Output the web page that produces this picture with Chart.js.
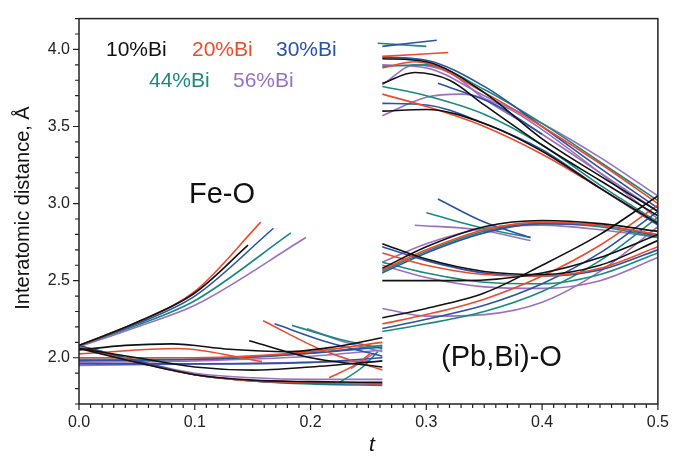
<!DOCTYPE html>
<html>
<head>
<meta charset="utf-8">
<script src="https://cdn.jsdelivr.net/npm/chart.js@4"></script>
<style>
  html, body { margin: 0; padding: 0; background: #fff; }
  #wrap { width: 678px; height: 457px; }
</style>
</head>
<body>
<div id="wrap"><canvas id="chart" width="678" height="457"></canvas></div>
<script>
// series labels and colours
var seriesLabels = ['10%Bi', '20%Bi', '30%Bi', '44%Bi', '56%Bi'];
var seriesColors = ['#111111', '#ee4a2b', '#2a52a6', '#1a8a7c', '#9a70c2'];

// each series: list of curves, each curve a list of [t, distance]
var bi10 = [
  [[0,2.08],[0.05,2.23],[0.1,2.42],[0.146,2.73]],
  [[0.147,2.11],[0.2,2.0],[0.262,1.94]],
  [[0,2.05],[0.04,2.08],[0.08,2.09],[0.13,2.055],[0.18,2.04],[0.22,2.07],[0.262,2.13]],
  [[0,2.06],[0.05,1.97],[0.1,1.89],[0.15,1.855],[0.2,1.845],[0.262,1.84]],
  [[0,2.06],[0.05,2.0],[0.1,1.94],[0.15,1.92],[0.2,1.94],[0.262,1.98]],
  [[0.262,3.94],[0.3,3.92],[0.35,3.72],[0.4,3.42],[0.45,3.18],[0.5,2.95]],
  [[0.262,3.78],[0.29,3.85],[0.32,3.8],[0.35,3.64],[0.4,3.38],[0.45,3.15],[0.5,2.92]],
  [[0.262,3.6],[0.3,3.61],[0.35,3.52],[0.4,3.34],[0.45,3.1],[0.5,2.87]],
  [[0.262,2.58],[0.3,2.72],[0.35,2.85],[0.4,2.89],[0.45,2.87],[0.5,2.82]],
  [[0.262,2.74],[0.3,2.64],[0.35,2.56],[0.4,2.54],[0.45,2.6],[0.5,2.76]],
  [[0.262,2.5],[0.33,2.5],[0.4,2.55],[0.45,2.65],[0.5,2.8]],
  [[0.262,2.26],[0.3,2.32],[0.35,2.42],[0.4,2.6],[0.45,2.8],[0.5,3.05]]
];
var bi20 = [
  [[0,2.08],[0.05,2.23],[0.1,2.43],[0.157,2.88]],
  [[0.159,2.24],[0.21,2.05],[0.262,1.92]],
  [[0,2.025],[0.085,2.06],[0.158,1.975]],
  [[0,2.0],[0.1,2.0],[0.2,2.04],[0.262,2.1]],
  [[0,2.07],[0.04,1.99],[0.1,1.89],[0.15,1.85],[0.2,1.84],[0.262,1.83]],
  [[0.216,1.87],[0.24,1.96],[0.252,2.03]],
  [[0.262,3.955],[0.319,3.98]],
  [[0.262,3.88],[0.29,3.92],[0.35,3.72],[0.4,3.5],[0.45,3.26],[0.5,3.0]],
  [[0.262,3.71],[0.3,3.63],[0.35,3.5],[0.4,3.32],[0.45,3.1],[0.5,2.87]],
  [[0.262,2.57],[0.3,2.7],[0.35,2.83],[0.4,2.88],[0.45,2.86],[0.5,2.8]],
  [[0.262,2.68],[0.3,2.6],[0.35,2.54],[0.4,2.53],[0.45,2.58],[0.5,2.72]],
  [[0.262,2.22],[0.3,2.28],[0.35,2.38],[0.4,2.53],[0.45,2.73],[0.5,2.99]]
];
var bi30 = [
  [[0,2.08],[0.05,2.22],[0.1,2.4],[0.168,2.84]],
  [[0.169,2.22],[0.215,2.1],[0.262,2.01]],
  [[0,1.98],[0.1,1.99],[0.2,2.03],[0.262,2.07]],
  [[0,1.96],[0.1,1.96],[0.2,1.97],[0.262,2.0]],
  [[0,2.08],[0.05,1.98],[0.1,1.89],[0.15,1.85],[0.2,1.835],[0.262,1.83]],
  [[0.262,4.02],[0.309,4.06]],
  [[0.262,3.95],[0.3,3.93],[0.35,3.76],[0.4,3.5],[0.45,3.23],[0.5,2.97]],
  [[0.262,3.65],[0.3,3.64],[0.35,3.52],[0.4,3.35],[0.45,3.1],[0.5,2.86]],
  [[0.31,3.78],[0.36,3.64],[0.4,3.45]],
  [[0.31,3.03],[0.35,2.88],[0.39,2.78]],
  [[0.262,2.55],[0.3,2.68],[0.35,2.81],[0.4,2.87],[0.45,2.86],[0.5,2.79]],
  [[0.262,2.72],[0.3,2.63],[0.35,2.55],[0.4,2.53],[0.45,2.57],[0.5,2.7]],
  [[0.262,2.19],[0.3,2.25],[0.35,2.34],[0.4,2.48],[0.45,2.68],[0.5,2.95]]
];
var bi44 = [
  [[0,2.08],[0.05,2.21],[0.1,2.37],[0.183,2.81]],
  [[0.184,2.21],[0.225,2.12],[0.262,2.06]],
  [[0,1.99],[0.1,1.99],[0.2,2.03],[0.262,2.08]],
  [[0,2.08],[0.05,1.98],[0.1,1.89],[0.15,1.85],[0.2,1.83],[0.262,1.82]],
  [[0.225,1.84],[0.245,1.94],[0.258,2.04]],
  [[0.258,4.04],[0.3,4.02]],
  [[0.262,3.89],[0.3,3.9],[0.35,3.74],[0.4,3.52],[0.45,3.27],[0.5,3.02]],
  [[0.262,3.76],[0.3,3.7],[0.35,3.58],[0.4,3.38],[0.45,3.12],[0.5,2.88]],
  [[0.3,2.94],[0.355,2.83],[0.39,2.78]],
  [[0.262,2.56],[0.3,2.69],[0.35,2.82],[0.4,2.87],[0.45,2.85],[0.5,2.78]],
  [[0.262,2.62],[0.3,2.55],[0.35,2.49],[0.4,2.48],[0.45,2.54],[0.5,2.68]],
  [[0.262,2.17],[0.3,2.22],[0.35,2.3],[0.4,2.43],[0.45,2.63],[0.5,2.91]]
];
var bi56 = [
  [[0,2.07],[0.05,2.2],[0.1,2.34],[0.196,2.78]],
  [[0.197,2.19],[0.23,2.1],[0.262,2.04]],
  [[0,1.97],[0.1,1.98],[0.2,2.01],[0.262,2.05]],
  [[0,1.95],[0.1,1.96],[0.2,1.97],[0.25,1.98]],
  [[0,2.07],[0.05,1.98],[0.1,1.9],[0.15,1.87],[0.2,1.86],[0.262,1.86]],
  [[0.235,1.93],[0.255,2.03]],
  [[0.262,3.9],[0.3,3.88],[0.35,3.7],[0.4,3.52],[0.45,3.3],[0.5,3.05]],
  [[0.262,3.77],[0.29,3.9],[0.32,3.85],[0.35,3.68],[0.4,3.45],[0.45,3.2],[0.5,2.95]],
  [[0.262,3.57],[0.3,3.69],[0.33,3.71],[0.37,3.62],[0.4,3.48],[0.45,3.2],[0.5,2.9]],
  [[0.29,2.86],[0.345,2.83],[0.39,2.76]],
  [[0.262,2.62],[0.3,2.74],[0.35,2.84],[0.4,2.86],[0.45,2.83],[0.5,2.78]],
  [[0.262,2.6],[0.3,2.52],[0.35,2.46],[0.4,2.45],[0.45,2.5],[0.5,2.65]],
  [[0.262,2.32],[0.3,2.27],[0.35,2.28],[0.4,2.36],[0.45,2.56],[0.5,2.85]]
];

// axis ranges / ticks
var xMin = 0, xMax = 0.5, xMinor = 0.01, xMajor = 0.1;
var yMin = 1.7, yMax = 4.2, yMinor = 0.1, yMajor = 0.5;

var FONT = "'Liberation Sans', Arial, sans-serif";

function buildDatasets() {
  var all = [bi10, bi20, bi30, bi44, bi56];
  var ds = [];
  for (var i = 0; i < all.length; i++) {
    for (var j = 0; j < all[i].length; j++) {
      ds.push({
        label: seriesLabels[i],
        data: all[i][j].map(function (p) { return { x: p[0], y: p[1] }; }),
        borderColor: seriesColors[i],
        borderWidth: 1.6,
        pointRadius: 0,
        fill: false,
        cubicInterpolationMode: 'monotone'
      });
    }
  }
  return ds;
}

function isMajor(v, step) {
  var r = v / step;
  return Math.abs(r - Math.round(r)) < 1e-6;
}

// frame, tick marks and annotations
var decorPlugin = {
  id: 'decor',
  afterDraw: function (chart) {
    var ctx = chart.ctx;
    var a = chart.chartArea;
    var xs = chart.scales.x, ys = chart.scales.y;
    ctx.save();

    ctx.strokeStyle = '#222';
    ctx.lineWidth = 1.5;
    ctx.strokeRect(a.left, a.top, a.right - a.left, a.bottom - a.top);

    ctx.lineWidth = 1.2;
    ctx.beginPath();
    xs.ticks.forEach(function (t) {
      var px = xs.getPixelForValue(t.value);
      var len = isMajor(t.value, xMajor) ? 6 : 4;
      ctx.moveTo(px, a.bottom);
      ctx.lineTo(px, a.bottom + len);
    });
    ys.ticks.forEach(function (t) {
      var py = ys.getPixelForValue(t.value);
      var len = isMajor(t.value, yMajor) ? 6 : 4;
      ctx.moveTo(a.left, py);
      ctx.lineTo(a.left - len, py);
    });
    ctx.stroke();

    // axis titles
    ctx.fillStyle = '#111';
    ctx.textAlign = 'center';
    ctx.textBaseline = 'middle';
    ctx.font = '20px ' + FONT;
    ctx.save();
    ctx.translate(23, 208);
    ctx.rotate(-Math.PI / 2);
    ctx.fillText('Interatomic distance, \u00c5', 0, 0);
    ctx.restore();
    ctx.font = 'italic 21px ' + FONT;
    ctx.fillText('t', 372, 445);

    // region labels
    ctx.textAlign = 'left';
    ctx.textBaseline = 'alphabetic';
    ctx.font = '29px ' + FONT;
    ctx.fillText('Fe-O', 189, 203);
    ctx.fillText('(Pb,Bi)-O', 441, 366);

    // legend text
    ctx.font = '21px ' + FONT;
    var legendPos = [[106, 56], [192, 56], [276, 56], [149, 87], [233, 87]];
    for (var i = 0; i < seriesLabels.length; i++) {
      ctx.fillStyle = seriesColors[i];
      ctx.fillText(seriesLabels[i], legendPos[i][0], legendPos[i][1]);
    }
    ctx.restore();
  }
};

function init() {
  var ctx = document.getElementById('chart').getContext('2d');
  var chart = new Chart(ctx, {
    type: 'line',
    data: { datasets: buildDatasets() },
    options: {
      responsive: false,
      animation: false,
      events: [],
      layout: { padding: { left: 0, top: 12, right: 12, bottom: 0 } },
      plugins: { legend: { display: false }, tooltip: { enabled: false } },
      scales: {
        x: {
          type: 'linear',
          min: xMin, max: xMax,
          grid: { display: false, drawTicks: false },
          border: { display: false },
          ticks: {
            stepSize: xMinor,
            autoSkip: false,
            maxRotation: 0,
            padding: 9,
            color: '#222',
            font: { family: FONT, size: 16 },
            callback: function (v) { return isMajor(v, xMajor) ? v.toFixed(1) : ''; }
          },
          afterFit: function (s) { s.height = 53; }
        },
        y: {
          type: 'linear',
          min: yMin, max: yMax,
          grid: { display: false, drawTicks: false },
          border: { display: false },
          ticks: {
            stepSize: yMinor,
            autoSkip: false,
            padding: 9,
            color: '#222',
            font: { family: FONT, size: 16 },
            callback: function (v) { return isMajor(v, yMajor) ? v.toFixed(1) : ''; }
          },
          afterFit: function (s) { s.width = 79; }
        }
      }
    },
    plugins: [decorPlugin]
  });
}

init();
</script>
</body>
</html>
